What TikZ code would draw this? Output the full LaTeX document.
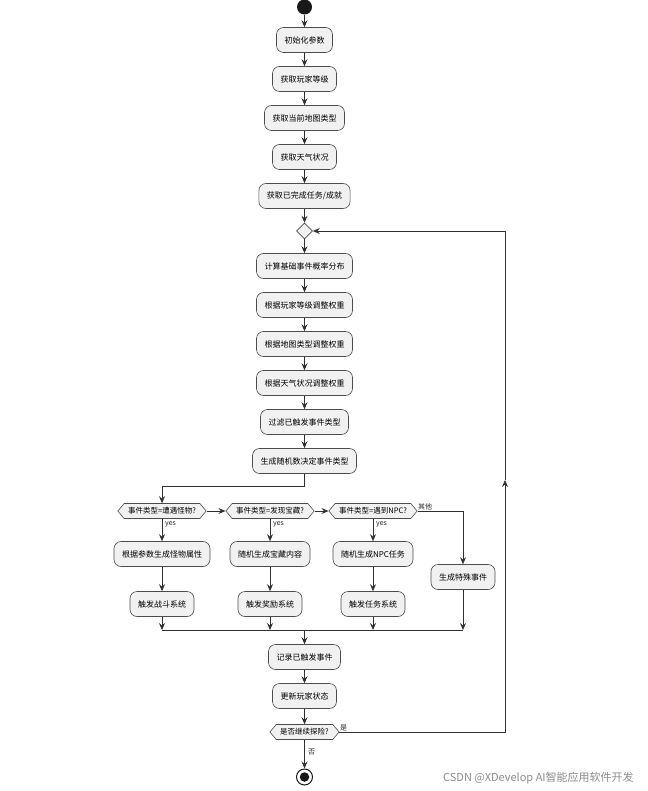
\documentclass[tikz,border=0pt]{standalone}
\usepackage{fontspec}
\newfontfamily\cjk{Noto Sans CJK SC}
\usetikzlibrary{arrows.meta,shapes.geometric,shapes.symbols}
\definecolor{actfill}{HTML}{F1F1F1}
\definecolor{lineclr}{HTML}{303030}
\begin{document}
\begin{tikzpicture}[x=1pt,y=-1pt,
  act/.style={draw=black!70, line width=0.6pt, fill=actfill, rounded corners=7pt, minimum height=25pt, inner xsep=8pt, inner ysep=2pt, font=\cjk\fontsize{8}{9}\selectfont},
  dec/.style={draw=black!70, line width=0.6pt, fill=actfill, signal, signal to=west and east, signal pointer angle=100, minimum height=15pt, inner xsep=4pt, inner ysep=1pt, font=\cjk\fontsize{7.5}{8}\selectfont},
  flow/.style={line width=0.8pt, draw=lineclr, -{Stealth[length=7pt,width=6pt,inset=2.5pt]}},
  plain/.style={line width=0.8pt, draw=lineclr},
  lbl/.style={font=\cjk\fontsize{7}{8}\selectfont, inner sep=1pt, text=black!85}
]
\useasboundingbox (0,0) rectangle (647,791);
\fill[white] (0,0) rectangle (647,791);

\node[circle, fill=black!90, minimum size=15pt, inner sep=0pt] (start) at (304.5,7) {};
\node[act] (init) at (304.5,40) {初始化参数};
\node[act] (lvl) at (304.5,79) {获取玩家等级};
\node[act] (map) at (304.5,118) {获取当前地图类型};
\node[act] (wea) at (304.5,157) {获取天气状况};
\node[act] (ach) at (304.5,196) {获取已完成任务/成就};
\node[diamond, draw=black!70, line width=0.6pt, fill=actfill, minimum width=16pt, minimum height=16pt, inner sep=0pt] (dia) at (304.5,231) {};
\node[act] (calc) at (304.5,266) {计算基础事件概率分布};
\node[act] (w1) at (304.5,305) {根据玩家等级调整权重};
\node[act] (w2) at (304.5,344) {根据地图类型调整权重};
\node[act] (w3) at (304.5,383) {根据天气状况调整权重};
\node[act] (filt) at (304.5,422) {过滤已触发事件类型};
\node[act] (rnd) at (304.5,461) {生成随机数决定事件类型};

\node[dec] (d1) at (162,511) {事件类型=遭遇怪物?};
\node[dec] (d2) at (270,511) {事件类型=发现宝藏?};
\node[dec] (d3) at (373,511) {事件类型=遇到NPC?};

\node[act] (m1) at (162,554) {根据参数生成怪物属性};
\node[act] (t1) at (270,554) {随机生成宝藏内容};
\node[act] (n1) at (373,554) {随机生成NPC任务};
\node[act] (sp) at (463,577) {生成特殊事件};

\node[act] (m2) at (162,604) {触发战斗系统};
\node[act] (t2) at (270,604) {触发奖励系统};
\node[act] (n2) at (373,604) {触发任务系统};

\node[act] (rec) at (304.5,657) {记录已触发事件};
\node[act] (upd) at (304.5,696) {更新玩家状态};
\node[dec] (cont) at (304.5,732) {是否继续探险?};

\node[circle, draw=black!90, line width=1pt, fill=white, minimum size=16pt, inner sep=0pt] (stop) at (304.5,777) {};
\node[circle, fill=black!90, minimum size=9.5pt, inner sep=0pt] (stopin) at (stop.center) {};

% coordinates
\coordinate (split) at (304.5,486);
\coordinate (oth) at (463,511);
\coordinate (mL) at (162,630);
\coordinate (mR) at (463,630);
\coordinate (mC) at (304.5,630);
\coordinate (mT) at (270,630);
\coordinate (mN) at (373,630);
\coordinate (loopB) at (505,732);
\coordinate (loopA) at (505,480);
\coordinate (loopT) at (505,231);

% main chain
\draw[flow] (start) -- (init);
\draw[flow] (init) -- (lvl);
\draw[flow] (lvl) -- (map);
\draw[flow] (map) -- (wea);
\draw[flow] (wea) -- (ach);
\draw[flow] (ach) -- (dia);
\draw[flow] (dia) -- (calc);
\draw[flow] (calc) -- (w1);
\draw[flow] (w1) -- (w2);
\draw[flow] (w2) -- (w3);
\draw[flow] (w3) -- (filt);
\draw[flow] (filt) -- (rnd);
\draw[flow] (rnd.south) -- (split) -| (d1.north);

% decisions
\draw[flow] (d1.east) -- (d2.west);
\draw[flow] (d2.east) -- (d3.west);
\draw[flow] (d3.east) -- (oth) -- (sp.north);
\draw[flow] (d1.south) -- (m1.north);
\draw[flow] (d2.south) -- (t1.north);
\draw[flow] (d3.south) -- (n1.north);
\draw[flow] (m1) -- (m2);
\draw[flow] (t1) -- (t2);
\draw[flow] (n1) -- (n2);

% merge
\draw[flow] (m2.south) -- (mL);
\draw[flow] (t2.south) -- (mT);
\draw[flow] (n2.south) -- (mN);
\draw[flow] (sp.south) -- (mR);
\draw[plain] (mL) -- (mR);
\draw[flow] (mC) -- (rec.north);
\draw[flow] (rec) -- (upd);
\draw[flow] (upd) -- (cont);
\draw[flow] (cont.south) -- (stop.north);

% loop
\draw[flow] (cont.east) -- (loopB) -- (loopA);
\draw[flow] (loopA) -- (loopT) -- (dia.east);

% labels
\node[lbl, anchor=west] (y1) at (164,524) {yes};
\node[lbl, anchor=west] (y2) at (272,524) {yes};
\node[lbl, anchor=west] (y3) at (375,524) {yes};
\node[lbl, anchor=south west] (lo) at (417,511) {其他};
\node[lbl, anchor=south west] (ls) at (339,732) {是};
\node[lbl, anchor=west] (lf) at (307,752) {否};

\node[anchor=west, inner sep=0pt, font=\cjk\fontsize{11}{12}\selectfont, text=black!45] (wm) at (443,778) {CSDN @XDevelop AI智能应用软件开发};
\end{tikzpicture}
\end{document}
